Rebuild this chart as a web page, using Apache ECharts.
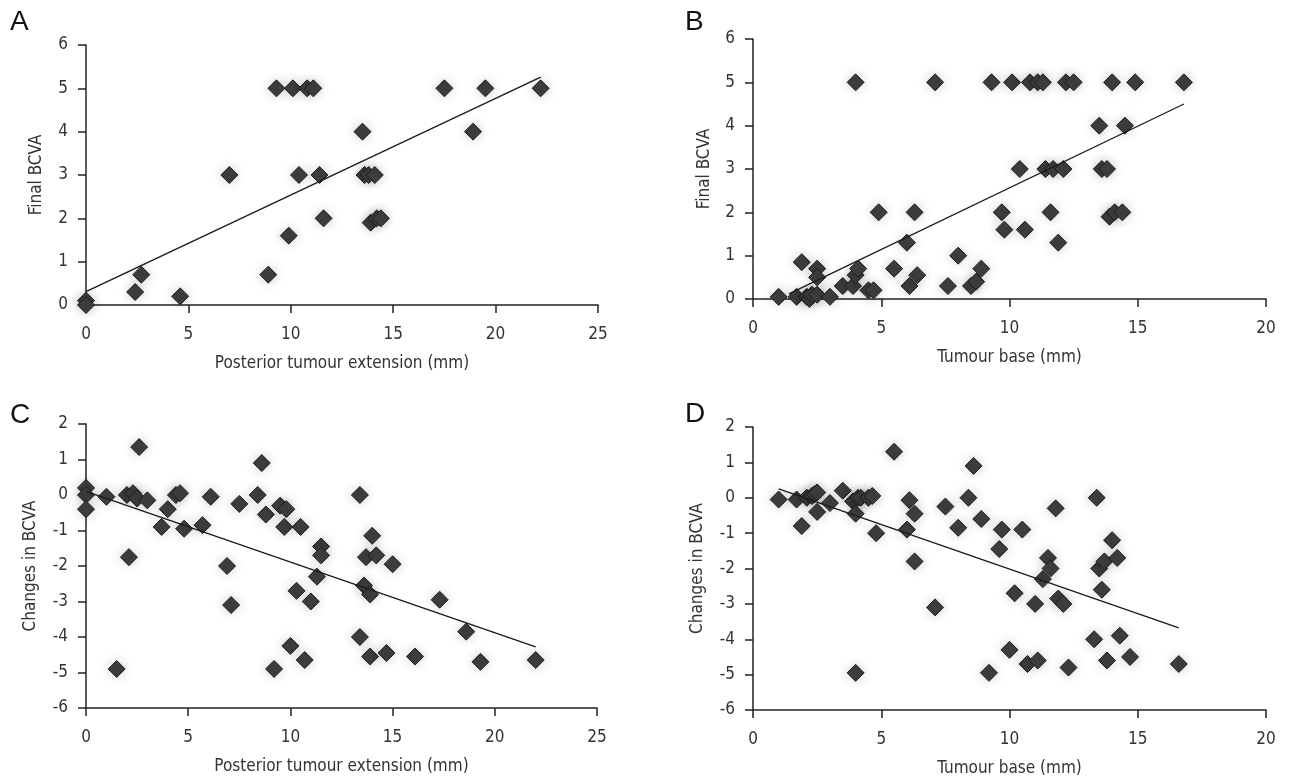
<!DOCTYPE html>
<html>
<head>
<meta charset="utf-8">
<script src="https://cdn.jsdelivr.net/npm/echarts@6/dist/echarts.min.js"></script>
<style>
  html, body { margin: 0; padding: 0; background: #fff; }
  #main { width: 1290px; height: 778px; }
</style>
</head>
<body>
<div id="main"></div>
<script>
// A: final BCVA vs posterior tumour extension (mm)
var finalVsExtension = [
    [0, 0.1], [0, 0], [2.4, 0.3], [2.7, 0.7], [4.6, 0.2], [7.0, 3], [8.9, 0.7],
    [9.3, 5], [9.9, 1.6], [10.1, 5], [10.4, 3], [10.8, 5], [11.1, 5], [11.4, 3],
    [11.6, 2], [13.5, 4], [13.6, 3], [13.8, 3], [14.1, 3], [13.9, 1.9], [14.2, 2],
    [14.4, 2], [17.5, 5], [18.9, 4], [19.5, 5], [22.2, 5]
];
var trendA = [[0, 0.31], [22.2, 5.26]];

// B: final BCVA vs tumour base (mm)
var finalVsBase = [
    [1.0, 0.05], [1.7, 0.05], [1.9, 0.85], [2.1, 0.05], [2.2, 0], [2.3, 0.1], [2.5, 0.1],
    [2.5, 0.7], [2.5, 0.5], [3.0, 0.05], [3.5, 0.3], [3.9, 0.3], [4.0, 0.55], [4.1, 0.7],
    [4.0, 5], [4.5, 0.2], [4.7, 0.2], [4.9, 2], [5.5, 0.7], [6.0, 1.3], [6.1, 0.3],
    [6.3, 2], [6.4, 0.55], [7.1, 5], [7.6, 0.3], [8.0, 1.0], [8.5, 0.3], [8.7, 0.4],
    [8.9, 0.7], [9.3, 5], [9.7, 2], [9.8, 1.6], [10.1, 5], [10.4, 3], [10.6, 1.6],
    [10.8, 5], [11.1, 5], [11.3, 5], [11.4, 3], [11.6, 2], [11.7, 3], [11.9, 1.3],
    [12.1, 3], [12.2, 5], [12.5, 5], [13.5, 4], [13.6, 3], [13.8, 3], [13.9, 1.9],
    [14.0, 5], [14.1, 2], [14.4, 2], [14.5, 4], [14.9, 5], [16.8, 5]
];
var trendB = [[1.4, 0.12], [16.8, 4.5]];

// C: change in BCVA vs posterior tumour extension (mm)
var changeVsExtension = [
    [0, 0.2], [0, 0], [0, -0.4], [1.0, -0.05], [1.5, -4.9], [2.0, 0], [2.1, -1.75],
    [2.3, 0.05], [2.5, -0.1], [2.6, 1.35], [3.0, -0.15], [3.7, -0.9], [4.0, -0.4],
    [4.4, 0], [4.6, 0.05], [4.8, -0.95], [5.7, -0.85], [6.1, -0.05], [6.9, -2],
    [7.1, -3.1], [7.5, -0.25], [8.4, 0], [8.6, 0.9], [8.8, -0.55], [9.2, -4.9],
    [9.5, -0.3], [9.7, -0.9], [9.8, -0.4], [10.0, -4.25], [10.3, -2.7], [10.5, -0.9],
    [10.7, -4.65], [11.0, -3], [11.3, -2.3], [11.5, -1.45], [11.5, -1.7], [13.4, 0],
    [13.4, -4], [13.6, -2.55], [13.7, -1.75], [13.9, -2.8], [13.9, -4.55], [14.0, -1.15],
    [14.2, -1.7], [14.7, -4.45], [15.0, -1.95], [16.1, -4.55], [17.3, -2.95],
    [18.6, -3.85], [19.3, -4.7], [22.0, -4.65]
];
var trendC = [[0, 0.1], [22.0, -4.28]];

// D: change in BCVA vs tumour base (mm)
var changeVsBase = [
    [1.0, -0.05], [1.7, -0.05], [1.9, -0.8], [2.1, 0], [2.3, 0.05], [2.4, 0.1], [2.5, 0.15],
    [2.5, -0.4], [3.0, -0.15], [3.5, 0.2], [3.9, -0.1], [4.0, -0.45], [4.0, -4.95],
    [4.1, 0], [4.2, 0], [4.5, 0], [4.65, 0.05], [4.8, -1.0], [5.5, 1.3], [6.0, -0.9],
    [6.1, -0.07], [6.3, -0.45], [6.3, -1.8], [7.1, -3.1], [7.5, -0.25], [8.0, -0.85],
    [8.4, 0], [8.6, 0.9], [8.9, -0.6], [9.2, -4.95], [9.6, -1.45], [9.7, -0.9],
    [10.0, -4.3], [10.2, -2.7], [10.5, -0.9], [10.7, -4.7], [11.0, -3.0], [11.1, -4.6],
    [11.3, -2.3], [11.5, -1.7], [11.6, -2.0], [11.8, -0.3], [11.9, -2.85], [12.1, -3.0],
    [12.3, -4.8], [13.3, -4.0], [13.4, 0], [13.5, -2.0], [13.6, -2.6], [13.7, -1.8],
    [13.8, -4.6], [14.0, -1.2], [14.2, -1.7], [14.3, -3.9], [14.7, -4.5], [16.6, -4.7]
];
var trendD = [[1.0, 0.25], [16.6, -3.68]];

var panelLetters = ['A', 'B', 'C', 'D'];
var xNames = ['Posterior tumour extension (mm)', 'Tumour base (mm)',
              'Posterior tumour extension (mm)', 'Tumour base (mm)'];
var yNames = ['Final BCVA', 'Final BCVA', 'Changes in BCVA', 'Changes in BCVA'];
var xMax = [25, 20, 25, 20];
var yRange = [[0, 6], [0, 6], [-6, 2], [-6, 2]];

var FONT = '"Liberation Sans Narrow", "DejaVu Sans Condensed", sans-serif';
var AXIS_COLOR = '#222';
var TEXT_COLOR = '#333';

var grids = [
    { left: 86, top: 45, width: 512, height: 260 },
    { left: 753, top: 39, width: 513, height: 260 },
    { left: 86, top: 424, width: 511, height: 284 },
    { left: 753, top: 427, width: 513, height: 283 }
];
var yNameGap = [41, 40, 47, 47];
var letterPos = [[10, 8], [685, 8], [10, 401], [685, 400]];

var allPoints = [finalVsExtension, finalVsBase, changeVsExtension, changeVsBase];
var allTrends = [trendA, trendB, trendC, trendD];

var myChart = echarts.init(document.getElementById('main'), null, { renderer: 'canvas' });

var xAxis = [], yAxis = [], series = [], title = [];
for (var i = 0; i < 4; i++) {
    xAxis.push({
        type: 'value',
        gridIndex: i,
        min: 0,
        max: xMax[i],
        interval: 5,
        name: xNames[i],
        nameLocation: 'middle',
        nameGap: 50,
        nameTextStyle: { fontFamily: FONT, fontSize: 17, color: TEXT_COLOR },
        axisLine: { onZero: false, lineStyle: { color: AXIS_COLOR, width: 1.5 } },
        axisTick: { show: true, length: 8, lineStyle: { color: AXIS_COLOR, width: 1.5 } },
        axisLabel: { fontFamily: FONT, fontSize: 17, color: TEXT_COLOR, margin: 21 },
        splitLine: { show: false }
    });
    yAxis.push({
        type: 'value',
        gridIndex: i,
        min: yRange[i][0],
        max: yRange[i][1],
        interval: 1,
        name: yNames[i],
        nameLocation: 'middle',
        nameGap: yNameGap[i],
        nameTextStyle: { fontFamily: FONT, fontSize: 17, color: TEXT_COLOR },
        axisLine: { onZero: false, lineStyle: { color: AXIS_COLOR, width: 1.5 } },
        axisTick: { show: true, length: 8, lineStyle: { color: AXIS_COLOR, width: 1.5 } },
        axisLabel: { fontFamily: FONT, fontSize: 17, color: TEXT_COLOR, margin: 18 },
        splitLine: { show: false }
    });
    series.push({
        type: 'scatter',
        xAxisIndex: i,
        yAxisIndex: i,
        symbol: 'diamond',
        symbolSize: 17,
        data: allPoints[i],
        itemStyle: {
            color: '#3d3d3d',
            borderColor: '#1e1e1e',
            borderWidth: 1,
            opacity: 1,
            shadowBlur: 12,
            shadowColor: 'rgba(0,0,0,0.2)'
        },
        z: 3
    });
    series.push({
        type: 'line',
        xAxisIndex: i,
        yAxisIndex: i,
        data: allTrends[i],
        showSymbol: false,
        symbol: 'none',
        lineStyle: { color: '#1a1a1a', width: 1.3 },
        z: 4
    });
    title.push({
        text: panelLetters[i],
        left: letterPos[i][0],
        top: letterPos[i][1],
        padding: 0,
        textStyle: { fontFamily: 'Liberation Sans, Arial, sans-serif', fontSize: 28, fontWeight: 'normal', color: '#111' }
    });
}

var option = {
    animation: false,
    backgroundColor: '#fff',
    title: title,
    grid: grids,
    xAxis: xAxis,
    yAxis: yAxis,
    series: series
};
option && myChart.setOption(option);
</script>
</body>
</html>
